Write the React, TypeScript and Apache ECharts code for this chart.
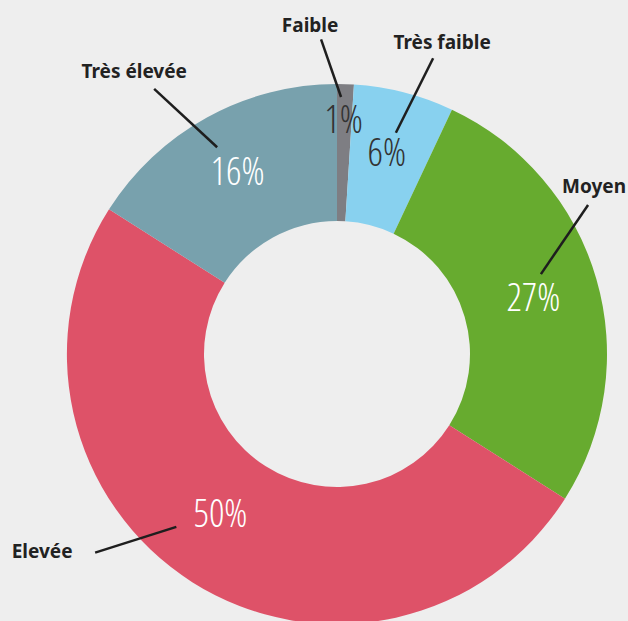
import React, { useEffect, useRef } from 'react';
import * as echarts from 'echarts';

const categories = ['Faible', 'Très faible', 'Moyen', 'Elevée', 'Très élevée'];
const shares = [1, 6, 27, 50, 16];
const sliceColors = ['#7e7e83', '#88d1ef', '#67ab2f', '#de5268', '#78a1ad'];
const percentColors = ['#333333', '#333333', '#ffffff', '#ffffff', '#ffffff'];
// small nudges of the percentage labels from the ring's middle [dx, dy]
const percentNudge = [[0, -32], [-1, -5], [0, -1], [-7, -15], [-1, -5]];

// leader line geometry: [angle offset from slice middle (deg), radius (px)]
const leaderStart = [[-0.9, 257], [0.5, 229], [-5.2, 219], [10.5, 236], [-1.3, 239]];
const leaderEnd = [[-4.7, 315], [3.6, 311], [-14.5, 292], [18.2, 313], [-5.8, 322]];
const nameOffset = [[-11, -14], [9, -16], [6, -19], [-53, -2], [-20, -18]];

const CX = 337;
const CY = 354;
const R_IN = 133;
const R_OUT = 270;

export default function App() {
  const ref = useRef<HTMLDivElement>(null);

  useEffect(() => {
    if (!ref.current) return;
    document.body.style.background = '#eeeeee';
    const chart = echarts.init(ref.current, undefined, { renderer: 'svg' });

    const total = shares.reduce((a, b) => a + b, 0);
    const midAngles: number[] = [];
    let acc = 0;
    shares.forEach((v) => {
      midAngles.push(((acc + v / 2) / total) * 360);
      acc += v;
    });
    const polar = (deg: number, r: number) => {
      const t = (deg * Math.PI) / 180;
      return [CX + r * Math.sin(t), CY - r * Math.cos(t)];
    };

    const data = categories.map((name, i) => ({
      name,
      value: shares[i],
      itemStyle: { color: sliceColors[i] },
      label: { color: percentColors[i] },
    }));

    chart.setOption({
      animation: false,
      backgroundColor: '#eeeeee',
      series: [
        {
          type: 'pie',
          center: [CX, CY],
          radius: [R_IN, R_OUT],
          startAngle: 90,
          clockwise: true,
          avoidLabelOverlap: false,
          silent: true,
          label: {
            show: true,
            position: 'inside',
            formatter: '{c}%',
            fontFamily: "'Open Sans'; font-stretch: condensed",
            fontSize: 38,
            fontWeight: 300,
          },
          labelLine: { show: false },
          labelLayout: (p: any) => ({
            dx: percentNudge[p.dataIndex][0],
            dy: percentNudge[p.dataIndex][1],
          }),
          data,
        },
        {
          type: 'pie',
          center: [CX, CY],
          radius: [R_IN, R_OUT],
          startAngle: 90,
          clockwise: true,
          avoidLabelOverlap: false,
          silent: true,
          z: 5,
          itemStyle: { color: 'transparent' },
          label: {
            show: true,
            position: 'outside',
            formatter: '{b}',
            color: '#222222',
            fontFamily: '"Noto Sans", sans-serif',
            fontSize: 19,
            fontWeight: 'bold',
          },
          labelLine: {
            show: true,
            length: 20,
            length2: 0,
            lineStyle: { color: '#1e1e1e', width: 2.5 },
          },
          labelLayout: (p: any) => {
            const i = p.dataIndex;
            const mid = midAngles[i];
            const s = polar(mid + leaderStart[i][0], leaderStart[i][1]);
            const e = polar(mid + leaderEnd[i][0], leaderEnd[i][1]);
            return {
              x: e[0] + nameOffset[i][0],
              y: e[1] + nameOffset[i][1],
              align: 'center',
              verticalAlign: 'middle',
              labelLinePoints: [s, e, e],
            };
          },
          data: categories.map((name, i) => ({ name, value: shares[i] })),
        },
      ],
    });

    return () => chart.dispose();
  }, []);

  return (
    <div
      ref={ref}
      style={{ position: 'fixed', left: 0, top: 0, width: 628, height: 621 }}
    />
  );
}
